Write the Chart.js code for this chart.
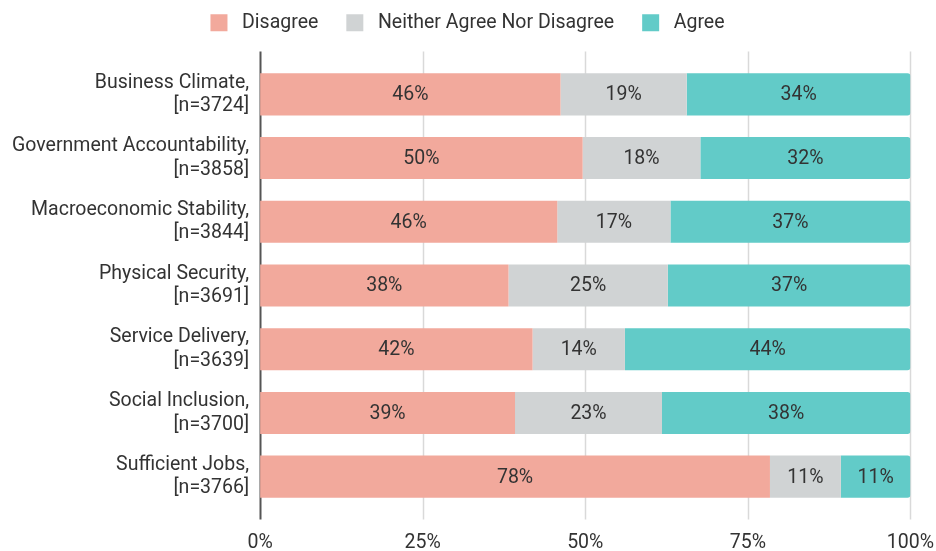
<!DOCTYPE html>
<html>
<head>
<meta charset="utf-8">
<script src="https://cdn.jsdelivr.net/npm/chart.js@4/dist/chart.umd.min.js"></script>
<style>
    html, body { margin: 0; padding: 0; background: #ffffff; }
    #wrap { width: 936px; height: 551px; }
</style>
</head>
<body>
<div id="wrap"><canvas id="opinionChart"></canvas></div>
<script>
// Survey opinion shares per governance area (percent of respondents)
const categories = [
    ['Business Climate,', '[n=3724]'],
    ['Government Accountability,', '[n=3858]'],
    ['Macroeconomic Stability,', '[n=3844]'],
    ['Physical Security,', '[n=3691]'],
    ['Service Delivery,', '[n=3639]'],
    ['Social Inclusion,', '[n=3700]'],
    ['Sufficient Jobs,', '[n=3766]']
];
const disagree = [46.2, 49.6, 45.7, 38.2, 41.9, 39.2, 78.4];
const neither = [19.4, 18.1, 17.4, 24.5, 14.2, 22.6, 10.9];
const agree = [34.4, 32.3, 36.9, 37.3, 43.9, 38.2, 10.7];
const tickValues = [0, 25, 50, 75, 100];

const textColor = '#333333';
const fontFamily = 'Roboto, "Noto Sans", sans-serif';
const fontSize = 19.5;

// writes the rounded share in the middle of every segment
const segmentLabels = {
    id: 'segmentLabels',
    afterDatasetsDraw(chart) {
        const ctx = chart.ctx;
        ctx.save();
        ctx.font = fontSize + 'px ' + fontFamily;
        ctx.fillStyle = textColor;
        ctx.textAlign = 'center';
        ctx.textBaseline = 'middle';
        chart.data.datasets.forEach((ds, i) => {
            chart.getDatasetMeta(i).data.forEach((bar, j) => {
                const x = (bar.x + bar.base) / 2;
                ctx.fillText(Math.round(ds.data[j]) + '%', x, bar.y + 1);
            });
        });
        ctx.restore();
    }
};

// vertical grid lines a little taller than the plot area, zero line darker
const gridLines = {
    id: 'gridLines',
    beforeDatasetsDraw(chart) {
        const ctx = chart.ctx;
        const area = chart.chartArea;
        const xScale = chart.scales.x;
        ctx.save();
        tickValues.forEach(v => {
            const x = Math.round(xScale.getPixelForValue(v)) + 0.5;
            ctx.beginPath();
            ctx.strokeStyle = v === 0 ? '#555555' : '#d9d9d9';
            ctx.lineWidth = v === 0 ? 2 : 1.5;
            ctx.moveTo(x, area.top - 11);
            ctx.lineTo(x, area.bottom + 11);
            ctx.stroke();
        });
        ctx.restore();
    }
};

const ctx = document.getElementById('opinionChart').getContext('2d');
new Chart(ctx, {
    type: 'bar',
    data: {
        labels: categories,
        datasets: [{
            label: 'Disagree',
            data: disagree,
            backgroundColor: '#f2a99c'
        }, {
            label: 'Neither Agree Nor Disagree',
            data: neither,
            backgroundColor: '#d0d3d4'
        }, {
            label: 'Agree',
            data: agree,
            backgroundColor: '#62cbc8',
            borderRadius: 3
        }]
    },
    options: {
        indexAxis: 'y',
        responsive: true,
        maintainAspectRatio: false,
        animation: false,
        datasets: {
            bar: {
                categoryPercentage: 0.66,
                barPercentage: 1
            }
        },
        layout: {
            padding: { top: -15, right: 2, bottom: -4, left: 1 }
        },
        scales: {
            x: {
                stacked: true,
                min: 0,
                max: 100,
                afterBuildTicks: axis => {
                    axis.ticks = tickValues.map(v => ({ value: v }));
                },
                grid: { display: false, drawTicks: true, tickLength: 23 },
                border: { display: false },
                ticks: {
                    padding: 2,
                    color: textColor,
                    font: { family: fontFamily, size: fontSize, lineHeight: 1 },
                    callback: v => v + '%'
                }
            },
            y: {
                stacked: true,
                grid: { display: false, drawTicks: false },
                border: { display: false },
                ticks: {
                    padding: 11,
                    color: textColor,
                    font: { family: fontFamily, size: fontSize, lineHeight: 1.2 }
                }
            }
        },
        plugins: {
            legend: {
                position: 'top',
                labels: {
                    boxWidth: 17,
                    boxHeight: 17,
                    padding: 28,
                    color: textColor,
                    font: { family: fontFamily, size: fontSize },
                    // a leading space widens the gap between swatch and text
                    generateLabels: chart => Chart.defaults.plugins.legend.labels
                        .generateLabels(chart)
                        .map(item => Object.assign(item, { text: ' ' + item.text }))
                }
            },
            // blank title used as a spacer between legend and plot
            title: {
                display: true,
                text: ' ',
                weight: 500,
                padding: 5,
                font: { size: 10, lineHeight: 1 }
            },
            tooltip: { enabled: false }
        }
    },
    plugins: [gridLines, segmentLabels]
});
</script>
</body>
</html>
